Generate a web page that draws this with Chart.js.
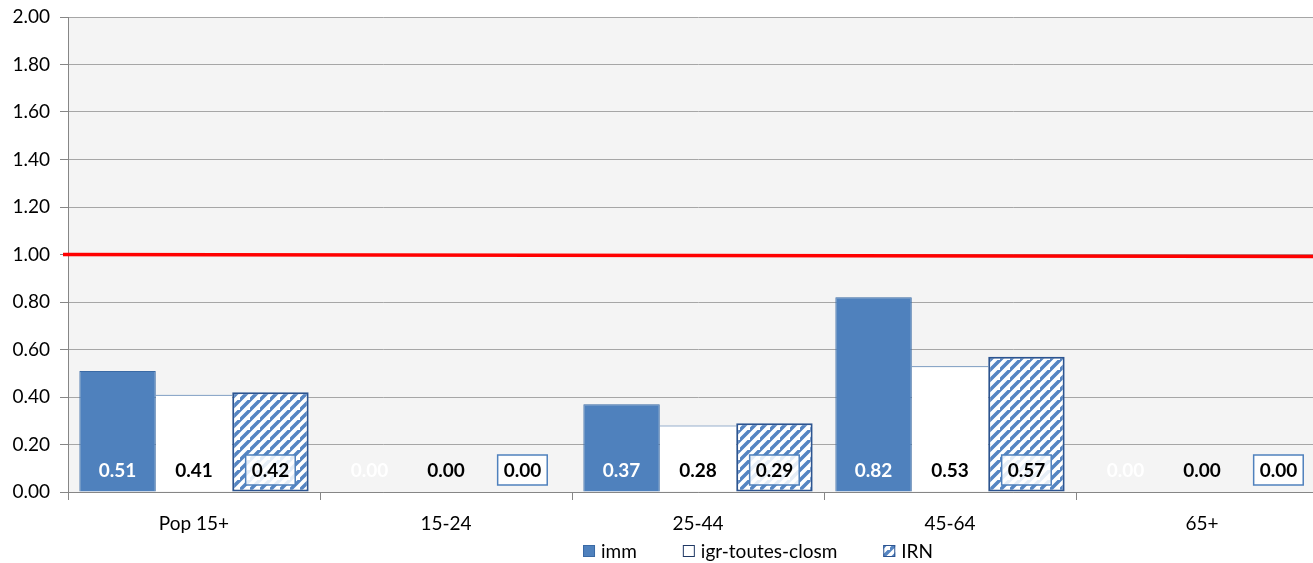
<!DOCTYPE html>
<html>
<head>
<meta charset="utf-8">
<script src="https://cdn.jsdelivr.net/npm/chart.js@4.4.1/dist/chart.umd.min.js"></script>
<style>
  html, body { margin: 0; padding: 0; background: #fff; overflow: hidden; }
  #wrap { width: 1330px; height: 563px; position: relative; }
</style>
</head>
<body>
<div id="wrap"><canvas id="chart"></canvas></div>
<script>
// data
const categories = ['Pop 15+', '15-24', '25-44', '45-64', '65+'];
const immValues = [0.51, 0, 0.37, 0.82, 0];
const igrValues = [0.41, 0, 0.28, 0.53, 0];
const irnValues = [0.42, 0, 0.29, 0.57, 0];
const seriesNames = ['imm', 'igr-toutes-closm', 'IRN'];
const refLine = 1.0;
const yTicks = [0, 0.2, 0.4, 0.6, 0.8, 1.0, 1.2, 1.4, 1.6, 1.8, 2.0];

const FONT = 'Lato, "Open Sans", sans-serif';
const BLUE = '#4f81bd';
const DARK_BLUE = '#2c5490';

// diagonal hatch for IRN
function makeHatch() {
    const s = 10;
    const c = document.createElement('canvas');
    c.width = s; c.height = s;
    const g = c.getContext('2d');
    g.fillStyle = '#ffffff';
    g.fillRect(0, 0, s, s);
    g.strokeStyle = '#5585c2';
    g.lineWidth = 3.5;
    g.beginPath();
    g.moveTo(-2, s + 2); g.lineTo(s + 2, -2);
    g.moveTo(-2 - s, s + 2); g.lineTo(2, -2);
    g.moveTo(s - 2, 2 * s + 2); g.lineTo(2 * s + 2, s - 2);
    g.stroke();
    return g.createPattern(c, 'repeat');
}
const hatch = makeHatch();

// grey plot background
const plotBg = {
    id: 'plotBg',
    beforeDraw(chart) {
        const { ctx, chartArea: a } = chart;
        ctx.save();
        ctx.fillStyle = '#f4f4f4';
        ctx.fillRect(a.left, a.top, a.right - a.left, a.bottom - a.top);
        ctx.restore();
    }
};

// red reference line at 1.00
const redLine = {
    id: 'redLine',
    afterDatasetsDraw(chart) {
        const { ctx, chartArea: a, scales } = chart;
        const y = scales.y.getPixelForValue(refLine);
        ctx.save();
        ctx.strokeStyle = '#ff0000';
        ctx.lineWidth = 3.5;
        ctx.beginPath();
        ctx.moveTo(a.left - 5, y);
        ctx.lineTo(a.right, y + 2);
        ctx.stroke();
        ctx.restore();
    }
};

// value labels near the base of each bar
const valueLabels = {
    id: 'valueLabels',
    afterDatasetsDraw(chart) {
        const { ctx, scales } = chart;
        const base = scales.y.getPixelForValue(0);
        ctx.save();
        ctx.font = 'bold 19px ' + FONT;
        ctx.textAlign = 'center';
        ctx.textBaseline = 'middle';
        chart.data.datasets.forEach((ds, i) => {
            const meta = chart.getDatasetMeta(i);
            meta.data.forEach((bar, j) => {
                const txt = ds.data[j].toFixed(2);
                const x = bar.x;
                const y = base - 22;
                if (i === 2) {
                    const w = ctx.measureText(txt).width + 12;
                    ctx.fillStyle = 'rgba(255,255,255,0.85)';
                    ctx.fillRect(x - w / 2, y - 15, w, 30);
                    ctx.strokeStyle = BLUE;
                    ctx.lineWidth = 1.5;
                    ctx.strokeRect(x - w / 2, y - 15, w, 30);
                }
                ctx.fillStyle = i === 0 ? '#ffffff' : '#000000';
                ctx.fillText(txt, x, y + 1);
            });
        });
        ctx.restore();
    }
};

// legend drawn by hand so it sits where the reference has it
const customLegend = {
    id: 'customLegend',
    afterDraw(chart) {
        const { ctx } = chart;
        const centre = 758, y = 551, box = 12, gap = 6, spacing = 46;
        ctx.save();
        ctx.font = '19px ' + FONT;
        ctx.textBaseline = 'middle';
        const widths = seriesNames.map(n => box + gap + ctx.measureText(n).width);
        const total = widths.reduce((a, b) => a + b, 0) + spacing * (widths.length - 1);
        let x = centre - total / 2;
        chart.data.datasets.forEach((ds, i) => {
            ctx.fillStyle = ds.backgroundColor;
            ctx.fillRect(x, y - box / 2, box, box);
            ctx.strokeStyle = ds.legendBorder;
            ctx.lineWidth = 1;
            ctx.strokeRect(x + 0.5, y - box / 2 + 0.5, box - 1, box - 1);
            ctx.fillStyle = '#000';
            ctx.fillText(seriesNames[i], x + box + gap, y + 1);
            x += widths[i] + spacing;
        });
        ctx.restore();
    }
};

new Chart(document.getElementById('chart'), {
    type: 'bar',
    data: {
        labels: categories,
        datasets: [
            {
                label: seriesNames[0],
                data: immValues,
                backgroundColor: BLUE,
                borderColor: '#3a6aa5',
                borderWidth: 1,
                borderSkipped: 'bottom',
                legendBorder: '#3a6aa5'
            },
            {
                label: seriesNames[1],
                data: igrValues,
                backgroundColor: '#ffffff',
                borderColor: '#3a6aa5',
                borderWidth: { top: 1, left: 0, right: 0, bottom: 0 },
                legendBorder: '#1f3864'
            },
            {
                label: seriesNames[2],
                data: irnValues,
                backgroundColor: hatch,
                borderColor: DARK_BLUE,
                borderWidth: 2,
                borderSkipped: false,
                legendBorder: DARK_BLUE
            }
        ]
    },
    options: {
        responsive: true,
        maintainAspectRatio: false,
        animation: false,
        layout: { padding: { top: 17, right: 2, left: 0, bottom: 0 } },
        plugins: {
            legend: { display: false },
            tooltip: { enabled: false }
        },
        datasets: {
            bar: { categoryPercentage: 0.91, barPercentage: 1.0 }
        },
        scales: {
            x: {
                grid: {
                    drawOnChartArea: false,
                    drawTicks: true,
                    tickLength: 8,
                    color: '#868686'
                },
                border: { color: '#868686' },
                ticks: {
                    color: '#000',
                    font: { family: FONT, size: 19 },
                    padding: 12
                },
                afterFit(scale) { scale.height = 71; }
            },
            y: {
                min: 0,
                max: 2,
                afterBuildTicks(scale) { scale.ticks = yTicks.map(v => ({ value: v })); },
                grid: {
                    color: '#a6a6a6',
                    tickLength: 8,
                    tickColor: '#868686'
                },
                border: { color: '#868686' },
                ticks: {
                    color: '#000',
                    font: { family: FONT, size: 19 },
                    padding: 10,
                    callback: v => v.toFixed(2)
                },
                afterFit(scale) {
                    scale.width = 68;
                    scale.paddingTop = 0;
                    scale.paddingBottom = 0;
                }
            }
        }
    },
    plugins: [plotBg, redLine, valueLabels, customLegend]
});
</script>
</body>
</html>
